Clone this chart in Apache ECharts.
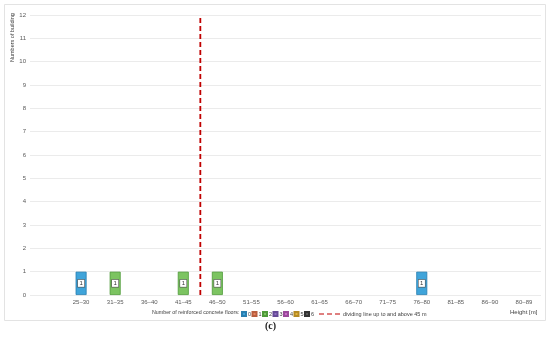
<!DOCTYPE html>
<html><head><meta charset="utf-8">
<script src="https://cdn.jsdelivr.net/npm/echarts@6/dist/echarts.min.js"></script>
<style>html,body{margin:0;padding:0;background:#fff}#c{width:550px;height:337px}</style>
</head><body><div id="c"></div>
<script>
const categories = ['', '25–30', '31–35', '36–40', '41–45', '46–50', '51–55', '56–60', '61–65', '66–70', '71–75', '76–80', '81–85', '86–90', '80–89'];
const floors0 = [0, 1, 0, 0, 0, 0, 0, 0, 0, 0, 0, 1, 0, 0, 0];
const floors1 = [0, 0, 0, 0, 0, 0, 0, 0, 0, 0, 0, 0, 0, 0, 0];
const floors2 = [0, 0, 1, 0, 1, 1, 0, 0, 0, 0, 0, 0, 0, 0, 0];
const floors3 = [0, 0, 0, 0, 0, 0, 0, 0, 0, 0, 0, 0, 0, 0, 0];
const floors4 = [0, 0, 0, 0, 0, 0, 0, 0, 0, 0, 0, 0, 0, 0, 0];
const floors5 = [0, 0, 0, 0, 0, 0, 0, 0, 0, 0, 0, 0, 0, 0, 0];
const floors6 = [0, 0, 0, 0, 0, 0, 0, 0, 0, 0, 0, 0, 0, 0, 0];
const dividerX = 5;
const yTicks = [0, 1, 2, 3, 4, 5, 6, 7, 8, 9, 10, 11, 12];

const seriesNames = ['0', '1', '2', '3', '4', '5', '6'];
const seriesData = [floors0, floors1, floors2, floors3, floors4, floors5, floors6];
const fills = ['#3FA4DA', '#E8835E', '#7CC461', '#8C6CC0', '#C96AC9', '#E3B43C', '#595959'];
const borders = ['#2A7FB0', '#B85E3E', '#4F9A3A', '#664A96', '#9A4A9A', '#B48A22', '#333333'];
const lineName = 'dividing line up to and above 45 m';
const yName = 'Numbers of building';
const font = 'Liberation Sans';

const chart = echarts.init(document.getElementById('c'), null, {renderer: 'canvas'});
const barSeries = seriesNames.map((n, i) => ({
  name: n, type: 'bar', stack: 'total', barWidth: 11,
  data: seriesData[i].map(v => v === 0 ? null : v),
  itemStyle: {color: fills[i], borderColor: borders[i], borderWidth: 0.8},
  label: {show: true, position: 'inside', formatter: p => p.value, fontSize: 6, fontFamily: font,
    color: '#333', backgroundColor: '#fff', borderColor: '#555', borderWidth: 0.6, padding: [1, 1.5, 0, 1.5]},
  emphasis: {disabled: true}
}));
const barLegends = seriesNames.map((n, i) => ({
  data: [n], left: 241 + i * 10.5, top: 311, padding: 0, icon: 'rect', itemWidth: 4, itemHeight: 4,
  textStyle: {fontSize: 5.5, color: '#404040', padding: [0, 0, 0, -3]}, selectedMode: false
}));
chart.setOption({
  animation: false,
  textStyle: {fontFamily: font},
  grid: {left: 30, right: 9, top: 15, bottom: 42, containLabel: false, outerBoundsMode: 'none'},
  xAxis: [{
    type: 'category', data: categories,
    axisLine: {show: false}, axisTick: {show: false},
    axisLabel: {fontSize: 6, color: '#595959', margin: 4, interval: 0}
  }, {
    type: 'value', min: 0, max: categories.length, show: false
  }],
  yAxis: {
    type: 'value', min: 0, max: 12, interval: 1,
    axisLine: {show: false}, axisTick: {show: false},
    axisLabel: {fontSize: 6, color: '#595959', margin: 4, formatter: v => yTicks.includes(v) ? v : ''},
    splitLine: {lineStyle: {color: '#E6E6E6', width: 0.8}}
  },
  legend: barLegends.concat([{
    data: [{name: lineName, icon: 'path://M0,0h5v1h-5z M8,0h5v1h-5z M16,0h5v1h-5z'}],
    left: 319, top: 311, padding: 0, itemWidth: 21, itemHeight: 1.8,
    textStyle: {fontSize: 5.5, color: '#404040', padding: [0, 0, 0, -2]}, selectedMode: false
  }]),
  graphic: [
    {type: 'rect', shape: {x: 4.5, y: 4.5, width: 541, height: 316}, style: {fill: 'none', stroke: '#E3E3E3', lineWidth: 1}, silent: true},
    {type: 'text', x: 12, y: 62, rotation: Math.PI / 2, style: {text: yName, fontSize: 5.5, fill: '#404040', fontFamily: font, align: 'left', verticalAlign: 'middle'}},
    {type: 'text', left: 152, top: 310, style: {text: 'Number of reinforced concrete floors:', fontSize: 5.3, fill: '#404040', fontFamily: font}},
    {type: 'text', left: 510, top: 309, style: {text: 'Height [m]', fontSize: 6, fill: '#404040', fontFamily: font}},
    {type: 'text', left: 265, top: 321, style: {text: '(c)', fontSize: 10, fontWeight: 'bold', fill: '#222', fontFamily: 'Liberation Serif'}}
  ],
  series: barSeries.concat([{
    name: lineName, type: 'line', xAxisIndex: 1, symbol: 'none',
    data: [[dividerX, 0], [dividerX, 12]],
    lineStyle: {color: '#C00000', width: 1.8, type: [5, 3]}, itemStyle: {color: '#C00000'},
    emphasis: {disabled: true}
  }])
});
</script></body></html>
